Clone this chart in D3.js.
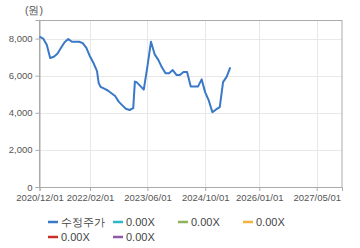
<!DOCTYPE html>
<html>
<head>
<meta charset="utf-8">
<script src="https://cdn.jsdelivr.net/npm/d3@7"></script>
<style>
  body { margin: 0; background: #fff; }
  svg text { font-family: "Liberation Sans", Arial, sans-serif; }
</style>
</head>
<body>
<svg id="chart" width="360" height="248"></svg>
<script>
// price series (monthly, a few mid-month points on sharp moves)
var dates = ["2020-12-01","2021-01-01","2021-02-01","2021-03-01","2021-04-01","2021-05-01",
  "2021-06-01","2021-07-01","2021-08-01","2021-09-01","2021-10-01","2021-11-01","2021-12-01",
  "2022-01-01","2022-02-01","2022-03-01","2022-04-01","2022-04-15","2022-05-01","2022-06-01",
  "2022-07-01","2022-08-01","2022-09-01","2022-10-01","2022-11-01","2022-12-01","2023-01-01",
  "2023-02-01","2023-02-15","2023-03-01","2023-04-01","2023-05-01","2023-06-01","2023-07-01",
  "2023-08-01","2023-09-01","2023-10-01","2023-11-01","2023-12-01","2024-01-01","2024-02-01",
  "2024-03-01","2024-04-01","2024-05-01","2024-06-01","2024-07-01","2024-08-01","2024-09-01",
  "2024-10-01","2024-11-01","2024-12-01","2025-01-01","2025-02-01","2025-03-01","2025-04-01",
  "2025-05-01"];
var prices = [8100,8000,7650,6950,7020,7180,
  7500,7800,7980,7830,7830,7830,7750,
  7500,7030,6700,6250,5600,5400,5300,
  5200,5050,4900,4600,4400,4220,4150,
  4250,5680,5650,5450,5250,6500,7830,
  7150,6850,6450,6130,6130,6300,6040,
  6040,6200,6200,5410,5410,5410,5800,
  5100,4650,4030,4180,4300,5650,5950,
  6450];
var yTicks = [0, 2000, 4000, 6000, 8000];
var xTicks = ["2020-12-01","2022-02-01","2023-06-01","2024-10-01","2026-01-01","2027-05-01"];
var legendNames = ["수정주가","0.00X","0.00X","0.00X","0.00X","0.00X"];
var legendColors = ["#3a78c8","#2fb8c9","#8fb35c","#f0b33c","#c9302c","#8e5aa8"];

var parse = d3.timeParse("%Y-%m-%d");
var fmt = d3.timeFormat("%Y/%m/%d");
var margin = {top: 20, right: 18, bottom: 61, left: 39.5};
var width = 360, height = 248;

var svg = d3.select("#chart");

var x = d3.scaleTime()
  .domain([parse("2020-12-01"), parse("2027-12-01")])
  .range([margin.left, width - margin.right]);
var y = d3.scaleLinear()
  .domain([0, 9000])
  .range([height - margin.bottom, margin.top]);

// grid
svg.append("g").selectAll("line.h")
  .data(yTicks.slice(1))
  .join("line")
  .attr("x1", margin.left).attr("x2", width - margin.right)
  .attr("y1", d => Math.round(y(d)) + 0.5).attr("y2", d => Math.round(y(d)) + 0.5)
  .attr("stroke", "#e8e8e8");
svg.append("g").selectAll("line.v")
  .data(xTicks.slice(1))
  .join("line")
  .attr("x1", d => Math.round(x(parse(d))) + 0.5).attr("x2", d => Math.round(x(parse(d))) + 0.5)
  .attr("y1", margin.top).attr("y2", height - margin.bottom)
  .attr("stroke", "#e8e8e8");

// frame
svg.append("rect")
  .attr("x", margin.left).attr("y", margin.top + 0.5)
  .attr("width", width - margin.right - margin.left)
  .attr("height", height - margin.bottom - margin.top)
  .attr("fill", "none").attr("stroke", "#aaa");

// axes
var yAxis = svg.append("g")
  .attr("transform", "translate(" + margin.left + ",0)")
  .call(d3.axisLeft(y).tickValues(yTicks).tickSize(4).tickPadding(3).tickFormat(d3.format(",")));
var xAxis = svg.append("g")
  .attr("transform", "translate(0," + (height - margin.bottom) + ")")
  .call(d3.axisBottom(x).tickValues(xTicks.map(parse)).tickSize(4).tickPadding(3).tickFormat(fmt));
[yAxis, xAxis].forEach(function(a) {
  a.select(".domain").attr("stroke", "#aaa");
  a.selectAll(".tick line").attr("stroke", "#aaa");
  a.selectAll(".tick text").attr("fill", "#555").style("font-size", "9.5px");
});

// unit label
svg.append("text")
  .attr("x", 25).attr("y", 14)
  .attr("fill", "#555").style("font-size", "10.5px")
  .text("(원)");

// price line
var line = d3.line()
  .x((d, i) => x(parse(dates[i])))
  .y(d => y(d));
svg.append("path")
  .datum(prices)
  .attr("d", line)
  .attr("fill", "none")
  .attr("stroke", legendColors[0])
  .attr("stroke-width", 2)
  .attr("stroke-linejoin", "round");

// legend
var leg = svg.append("g").selectAll("g")
  .data(legendNames)
  .join("g")
  .attr("transform", (d, i) => "translate(" + (48 + (i % 4) * 65) + "," + (222 + Math.floor(i / 4) * 15) + ")");
leg.append("line")
  .attr("x1", 0).attr("x2", 10)
  .attr("stroke", (d, i) => legendColors[i])
  .attr("stroke-width", 2.5);
leg.append("text")
  .attr("x", 13).attr("dy", "0.35em")
  .attr("fill", "#444").style("font-size", "11px")
  .text(d => d);
</script>
</body>
</html>
